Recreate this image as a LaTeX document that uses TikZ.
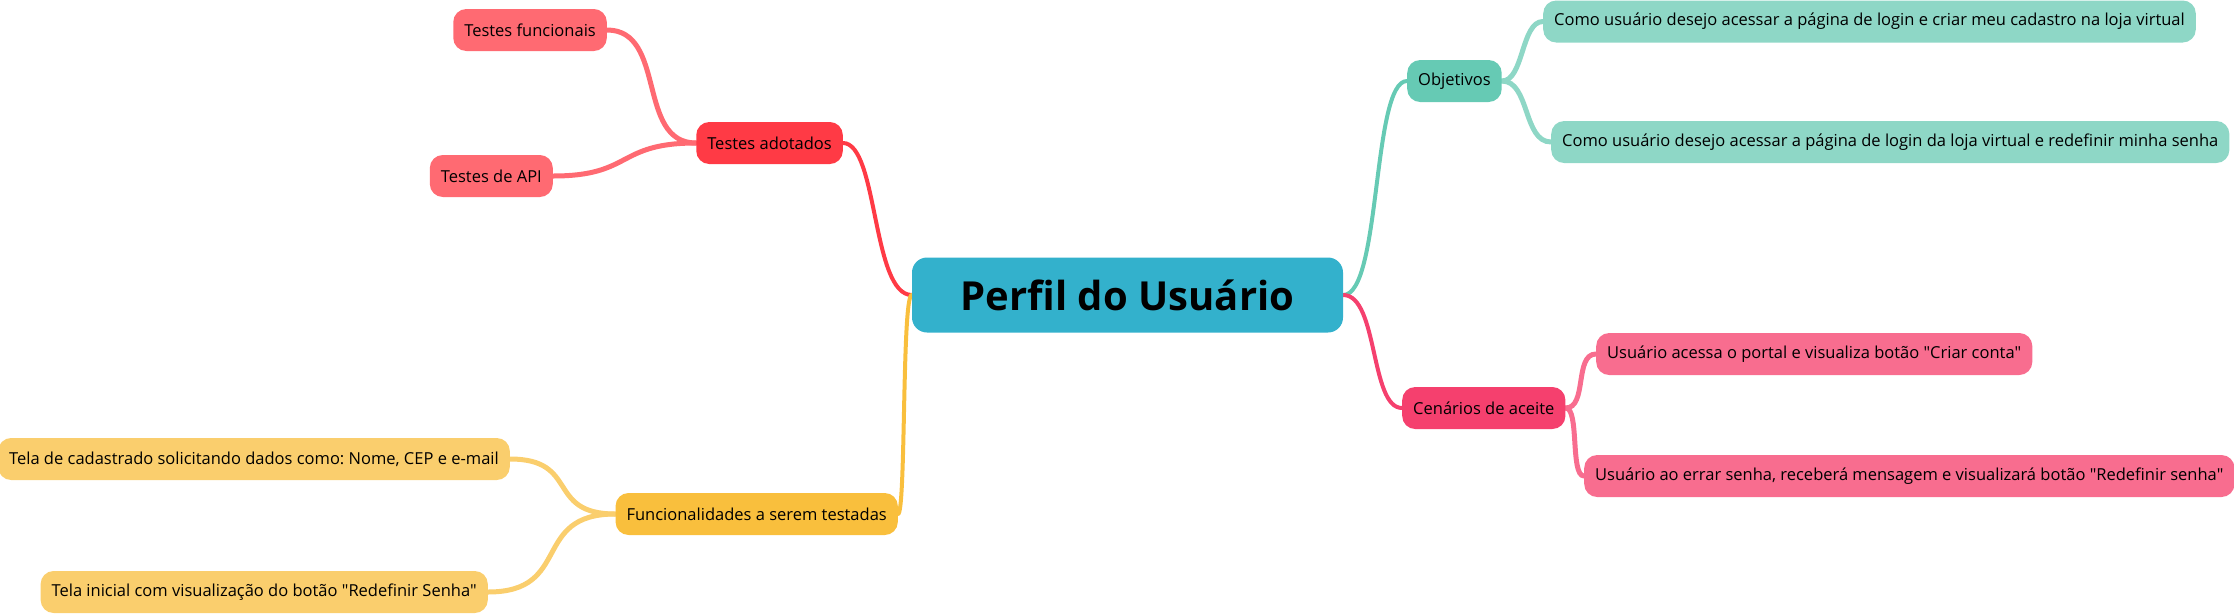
\documentclass[tikz,border=0pt]{standalone}
\usepackage{fontspec}
\setmainfont{Open Sans}
\usepackage{xcolor}
\usetikzlibrary{positioning, backgrounds}

\definecolor{rootblue}{HTML}{33B1CC}
\definecolor{redmain}{HTML}{FF3A45}
\definecolor{redleaf}{HTML}{FF6A72}
\definecolor{tealmain}{HTML}{66CAB4}
\definecolor{tealleaf}{HTML}{8ED7C6}
\definecolor{pinkmain}{HTML}{F5406E}
\definecolor{pinkleaf}{HTML}{F86D8F}
\definecolor{yellowmain}{HTML}{F9BF3D}
\definecolor{yellowleaf}{HTML}{FACE6D}

\frenchspacing

\begin{document}
\begin{tikzpicture}[x=1pt, y=-1pt,
    box/.style={rectangle, rounded corners=13pt, minimum height=42pt, inner xsep=11pt,
        font=\fontsize{16.5}{19}\selectfont},
    topic/.style={box, fill=#1},
    leaf/.style={box, fill=#1},
    branch/.style={draw=#1, line width=4pt, line cap=round},
    twig/.style={draw=#1, line width=5pt, line cap=round}]
    \useasboundingbox (0,0) rectangle (2234,614);

    % centro
    \node[rectangle, rounded corners=15pt, fill=rootblue, minimum width=431pt, minimum height=75pt,
        font=\fontsize{40}{46}\selectfont\bfseries] (root) at (1127.5,295) {Perfil do Usuário};

    % ramo: testes adotados
    \node[topic=redmain, anchor=east] (testes) at (843,143) {Testes adotados};
    \node[leaf=redleaf, anchor=east] (funcionais) at (607,30) {Testes funcionais};
    \node[leaf=redleaf, anchor=east] (api) at (553,176) {Testes de API};

    % ramo: funcionalidades
    \node[topic=yellowmain, anchor=east] (funcs) at (898,514) {Funcionalidades a serem testadas};
    \node[leaf=yellowleaf, anchor=east] (cadastro) at (510,459) {Tela de cadastrado solicitando dados como: Nome, CEP e e-mail};
    \node[leaf=yellowleaf, anchor=east] (inicial) at (488,592) {Tela inicial com visualização do botão \textquotedbl Redefinir Senha\textquotedbl};

    % ramo: objetivos
    \node[topic=tealmain, anchor=west] (objetivos) at (1407,81) {Objetivos};
    \node[leaf=tealleaf, anchor=west] (obj1) at (1543,21.5) {Como usuário desejo acessar a página de login e criar meu cadastro na loja virtual};
    \node[leaf=tealleaf, anchor=west] (obj2) at (1551,142) {Como usuário desejo acessar a página de login da loja virtual e redefinir minha senha};

    % ramo: cenarios
    \node[topic=pinkmain, anchor=west] (cenarios) at (1402,408) {Cenários de aceite};
    \node[leaf=pinkleaf, anchor=west] (cen1) at (1596,354) {Usuário acessa o portal e visualiza botão \textquotedbl Criar conta\textquotedbl};
    \node[leaf=pinkleaf, anchor=west] (cen2) at (1584,476) {Usuário ao errar senha, receberá mensagem e visualizará botão \textquotedbl Redefinir senha\textquotedbl};

    \begin{scope}[on background layer]
    % ligacoes principais
    \draw[branch=redmain] (root.west) .. controls +(-40,0) and +(35,0) .. (testes.east);
    \draw[branch=yellowmain] (root.west) .. controls +(-10,0) and +(8,0) .. (funcs.east);
    \draw[branch=tealmain] (root.east) .. controls +(38,0) and +(-35,0) .. (objetivos.west);
    \draw[branch=pinkmain] (root.east) .. controls +(35,0) and +(-32,0) .. (cenarios.west);

    % ligacoes secundarias
    \draw[twig=redleaf] (testes.west) .. controls +(-60,0) and +(60,0) .. (funcionais.east);
    \draw[twig=redleaf] (testes.west) .. controls +(-80,0) and +(80,0) .. (api.east);
    \draw[twig=yellowleaf] (funcs.west) .. controls +(-70,0) and +(70,0) .. (cadastro.east);
    \draw[twig=yellowleaf] (funcs.west) .. controls +(-85,0) and +(85,0) .. (inicial.east);
    \draw[twig=tealleaf] (objetivos.east) .. controls +(22,0) and +(-22,0) .. (obj1.west);
    \draw[twig=tealleaf] (objetivos.east) .. controls +(28,0) and +(-28,0) .. (obj2.west);
    \draw[twig=pinkleaf] (cenarios.east) .. controls +(22,0) and +(-22,0) .. (cen1.west);
    \draw[twig=pinkleaf] (cenarios.east) .. controls +(14,0) and +(-14,0) .. (cen2.west);
    \end{scope}
\end{tikzpicture}
\end{document}
